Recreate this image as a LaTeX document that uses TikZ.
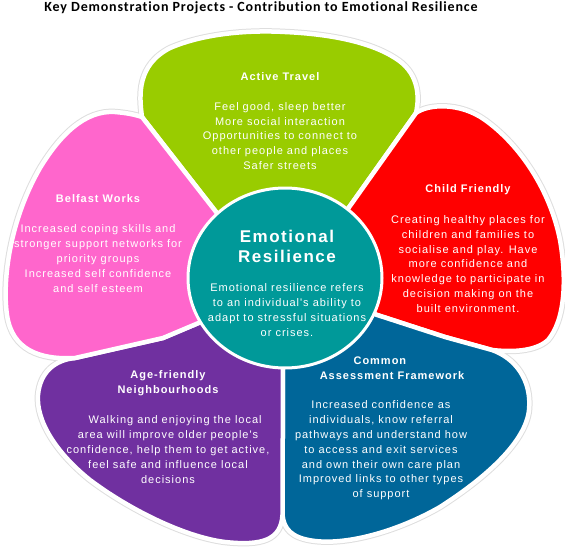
\documentclass[tikz,border=0pt]{standalone}
\usepackage{fontspec}
\setmainfont{Liberation Sans}
\newfontfamily\bodyfont[LetterSpace=9]{Liberation Sans}
\newfontfamily\titlefont[LetterSpace=6,Ligatures=NoCommon]{Carlito}
\definecolor{travelgreen}{HTML}{99CC00}
\definecolor{childred}{HTML}{FF0000}
\definecolor{cafblue}{HTML}{006699}
\definecolor{agepurple}{HTML}{7030A0}
\definecolor{belfastpink}{HTML}{FF66CC}
\definecolor{hubteal}{HTML}{009999}
\tikzset{
  rim/.style={draw=black!13, line width=6.5pt, line join=round},
  petal/.style={draw=white, line width=4.5pt, line join=round},
  hub/.style={fill=hubteal, draw=white, line width=3pt},
  head/.style={font=\bodyfont\bfseries\fontsize{11}{14.8}\selectfont, text=white, align=center, inner sep=0pt},
  body/.style={font=\bodyfont\fontsize{11}{14.8}\selectfont, text=white, align=center, inner sep=0pt},
}
% petal outlines
\def\travelpath{(C) -- (220,217) -- (142,117) .. controls (139,95) and (137,65) .. (170,48) .. controls (205,33) and (250,30) .. (285,32) .. controls (330,34) and (370,42) .. (395,58) .. controls (418,72) and (420,95) .. (416,113) -- (345,213) -- cycle}
\def\childpath{(C) -- (345,213) -- (416,113) .. controls (428,104) and (460,102) .. (485,120) .. controls (520,145) and (550,190) .. (560,240) .. controls (567,280) and (565,320) .. (548,340) .. controls (535,352) and (510,352) .. (492,350) -- (445,337) -- (368,312) -- cycle}
\def\cafpath{(C) -- (368,312) -- (445,337) -- (492,350) .. controls (515,358) and (532,380) .. (529,410) .. controls (526,440) and (490,475) .. (440,507) .. controls (400,530) and (350,545) .. (315,541) .. controls (290,538) and (284,528) .. (282.5,515) -- (283,360) -- cycle}
\def\agepath{(C) -- (283,360) -- (282.5,515) .. controls (281,540) and (262,546) .. (225,542) .. controls (185,537) and (130,510) .. (90,480) .. controls (55,452) and (36,420) .. (38,395) .. controls (40,372) and (55,360) .. (75,358) -- (163,338) -- (208,319) -- cycle}
\def\belfastpath{(C) -- (208,319) -- (163,338) -- (75,358) .. controls (40,360) and (12,350) .. (7,315) .. controls (2,280) and (10,220) .. (40,168) .. controls (60,135) and (85,110) .. (115,112) .. controls (128,113) and (136,115) .. (142,117) -- (220,217) -- cycle}
\begin{document}
\begin{tikzpicture}[x=1pt,y=-1pt]
\useasboundingbox (0,0) rectangle (565,549);
\coordinate (C) at (285,278);
%%
\path[rim] \travelpath;
\path[rim] \childpath;
\path[rim] \cafpath;
\path[rim] \agepath;
\path[rim] \belfastpath;
%%
\path[petal, fill=travelgreen] \travelpath;
\path[petal, fill=childred] \childpath;
\path[petal, fill=cafblue] \cafpath;
\path[petal, fill=agepurple] \agepath;
\path[petal, fill=belfastpink] \belfastpath;
\path[hub] (C) ellipse [x radius=97, y radius=90];
%%
  \node (title) at (261,8) [font=\titlefont\bfseries\fontsize{14}{16}\selectfont, inner sep=0pt] {Key Demonstration Projects - Contribution to Emotional Resilience};
  \node (hubHead) at (287,246) [head, font=\bodyfont\bfseries\fontsize{17}{20}\selectfont] {Emotional\\Resilience};
  \node (hubBody) at (287,310) [body] {Emotional resilience refers\\to an individual's ability to\\adapt to stressful situations\\or crises.};
  \node (travelHead) at (280,77) [head] {Active Travel};
  \node (travelBody) at (280,136) [body] {Feel good, sleep better\\More social interaction\\Opportunities to connect to\\other people and places\\Safer streets};
  \node (childHead) at (468,190) [head] {Child Friendly};
  \node (childBody) at (468,264) [body] {Creating healthy places for\\children and families to\\socialise and play. Have\\more confidence and\\knowledge to participate in\\decision making on the\\built environment.};
  \node (belfastHead) at (98,199) [head] {Belfast Works};
  \node (belfastBody) at (98,258.5) [body] {Increased coping skills and\\stronger support networks for\\priority groups\\Increased self confidence\\and self esteem};
  \node (ageHead) at (168,383) [head] {Age-friendly\\Neighbourhoods};
  \node (ageBody) at (168,449.5) [body] {\hspace*{1.3em}Walking and enjoying the local\\area will improve older people's\\confidence, help them to get active,\\feel safe and influence local\\decisions};
  \node (cafHead) at (392,368.5) [head] {\hspace*{-2.2em}Common\\Assessment Framework};
  \node (cafBody) at (381,450.5) [body] {Increased confidence as\\individuals, know referral\\pathways and understand how\\to access and exit services\\and own their own care plan\\Improved links to other types\\of support};
%
\end{tikzpicture}
\end{document}
